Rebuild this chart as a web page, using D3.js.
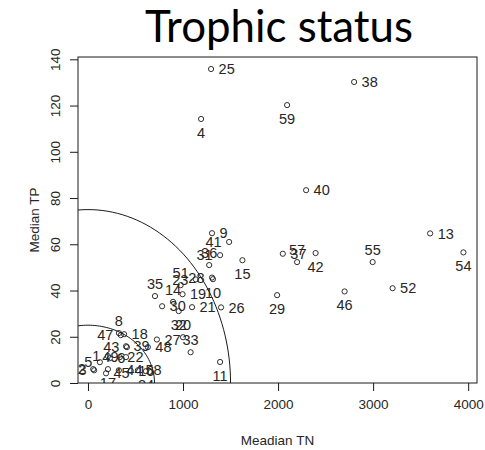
<!DOCTYPE html>
<html><head><meta charset="utf-8">
<script src="https://cdn.jsdelivr.net/npm/d3@7"></script>
<style>body{margin:0;background:#fff} svg{display:block}</style>
</head><body><svg id="c" width="485" height="450"></svg>
<script>
// ---- data ----
const siteIds  = [25,38,59,4,40,13,54,55,52,46,29,42,37,57,
                  9,41,31,36,15,28,10,23,51,35,14,19,30,26,21,32,20,33,11,27,48,
                  8,47,18,39,43,22,1,49,6,5,2,3,45,17,44,16,58,24];
const medianTN = [1295,2800,2095,1190,2295,3600,3950,2995,3205,2700,1990,2395,2050,2200,
                  1305,1485,1390,1275,1625,1305,1315,1135,975,705,895,995,780,1400,1095,955,1000,1080,1390,725,630,
                  325,345,380,400,410,335,210,400,230,125,55,65,190,210,325,450,525,610];
const medianTP = [135.8,130.2,120.2,114.2,83.4,64.7,56.5,52.3,41.0,39.6,38.0,56.2,55.9,52.3,
                  64.8,61.0,55.3,51.0,53.1,45.6,44.9,44.8,42.3,37.6,35.1,38.4,33.2,32.7,32.8,31.1,19.8,13.3,9.1,18.8,15.5,
                  21.6,20.7,21.1,15.9,15.5,11.2,11.6,11.2,10.7,9.0,6.0,5.5,4.2,6.0,5.5,5.3,5.5,5.1];
const xTicks = [0,1000,2000,3000,4000];
const yTicks = [0,20,40,60,80,100,120,140];
// trophic boundaries (TN, TP)
const boundTN = [700,1500];
const boundTP = [25,75];

// label placement (r = right, l = left, t = above, b = below)
const labelPlacement = {25:'r',38:'r',59:'b',4:'b',40:'r',13:'r',54:'b',55:'t',52:'r',46:'b',29:'b',42:'b',37:'r',57:'t',
  9:'r',41:'l',31:'l',36:'t',15:'b',28:'l',10:'b',23:'l',51:'t',35:'t',14:'t',19:'r',30:'r',26:'r',21:'r',32:'b',20:'t',33:'t',11:'b',27:'r',48:'r',
  8:'t',47:'l',18:'r',39:'r',43:'l',22:'r',1:'l',49:'l',6:'r',5:'l',2:'l',3:'l',45:'r',17:'b',44:'r',16:'r',58:'r',24:'b'};

// ---- layout ----
const svg = d3.select('#c');
const L=78, R=477, T=57, B=383;
const x = d3.scaleLinear().domain([-105,4093]).range([L,R]);
const y = d3.scaleLinear().domain([0,141]).range([B,T]);
const ink = '#1a1a1a', txt = '#262626';
const sans = '"Liberation Sans", Arial, sans-serif';

svg.append('defs').append('clipPath').attr('id','plotclip')
  .append('rect').attr('x',L).attr('y',T).attr('width',R-L).attr('height',B-T);

// title
const title = svg.append('text').attr('x',279).attr('y',41.5).attr('text-anchor','middle')
  .style('font-family','Lato, "Open Sans", sans-serif').style('font-size','44px').attr('fill','#000')
  .text('Trophic status');
const tw = title.node().getComputedTextLength();
title.style('font-size', (44*268/tw).toFixed(2)+'px');

// axes
const xAxis = d3.axisBottom(x).tickValues(xTicks).tickSize(8).tickSizeOuter(0).tickFormat(d3.format('d'));
const gx = svg.append('g').attr('transform',`translate(0,${B})`).call(xAxis);
const yAxis = d3.axisLeft(y).tickValues(yTicks).tickSize(8).tickSizeOuter(0).tickFormat(d3.format('d'));
const gy = svg.append('g').attr('transform',`translate(${L},0)`).call(yAxis);
[gx,gy].forEach(g=>{
  g.attr('font-family',null).attr('font-size',null);
  g.select('.domain').remove();
  g.selectAll('.tick line').attr('stroke',ink);
  g.selectAll('.tick text').attr('fill',txt)
    .style('font-family',sans).style('font-size','13.5px');
});
gy.selectAll('.tick text').attr('x',null).attr('dy',null).attr('text-anchor','middle')
  .attr('transform','translate(-18,0) rotate(-90)').attr('y',0);
gx.selectAll('.tick text').attr('dy','0.71em').attr('y',16);

// axis titles
svg.append('text').attr('x',(L+R)/2).attr('y',445).attr('text-anchor','middle')
  .style('font-family',sans).style('font-size','13.5px').attr('fill',txt)
  .text('Meadian TN');
svg.append('text').attr('transform',`translate(39,${(T+B)/2}) rotate(-90)`).attr('text-anchor','middle')
  .style('font-family',sans).style('font-size','13.5px').attr('fill',txt)
  .text('Median TP');

// plot content (clipped)
const plot = svg.append('g').attr('clip-path','url(#plotclip)');
const line = d3.line().x(d=>x(d[0])).y(d=>y(d[1]));
boundTN.forEach((a,i)=>{
  const b = boundTP[i];
  const pts = d3.range(0,361,2).map(t=>[a*Math.cos(t*Math.PI/180), b*Math.sin(t*Math.PI/180)]);
  plot.append('path').attr('d',line(pts)).attr('fill','none').attr('stroke',ink).attr('stroke-width',1);
});

const pts = siteIds.map((id,i)=>({id, tn:medianTN[i], tp:medianTP[i]}));
plot.selectAll('circle.pt').data(pts).join('circle').attr('class','pt')
  .attr('cx',d=>x(d.tn)).attr('cy',d=>y(d.tp)).attr('r',2.6)
  .attr('fill','none').attr('stroke',ink).attr('stroke-width',0.9);

plot.selectAll('text.lab').data(pts).join('text').attr('class','lab')
  .style('font-family',sans).style('font-size','14.5px').attr('fill',txt)
  .each(function(d){
    const s = labelPlacement[d.id] || 'r';
    const cx = x(d.tn), cy = y(d.tp);
    const t = d3.select(this).text(d.id);
    if (s==='r') t.attr('x',cx+7.5).attr('y',cy+5.2).attr('text-anchor','start');
    else if (s==='l') t.attr('x',cx-7.5).attr('y',cy+5.2).attr('text-anchor','end');
    else if (s==='t') t.attr('x',cx).attr('y',cy-7.3).attr('text-anchor','middle');
    else t.attr('x',cx).attr('y',cy+18.7).attr('text-anchor','middle');
  });

// box
svg.append('rect').attr('x',L).attr('y',T).attr('width',R-L).attr('height',B-T)
  .attr('fill','none').attr('stroke',ink).attr('stroke-width',1);
</script></body></html>
